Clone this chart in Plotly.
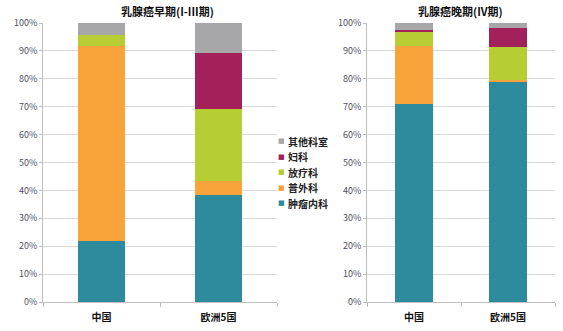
import plotly.graph_objects as go
from plotly.subplots import make_subplots

categories = ["中国", "欧洲5国"]
series_names = ["肿瘤内科", "普外科", "放疗科", "妇科", "其他科室"]
colors = ["#2D8B9D", "#F9A43A", "#B6CD34", "#A3215B", "#A7A7AA"]

early_values = {
    "肿瘤内科": [21.7, 38.4],
    "普外科": [70.1, 4.8],
    "放疗科": [3.9, 25.9],
    "妇科": [0.0, 20.1],
    "其他科室": [4.3, 10.8],
}
late_values = {
    "肿瘤内科": [70.8, 78.7],
    "普外科": [21.0, 0.8],
    "放疗科": [5.1, 11.9],
    "妇科": [0.6, 6.9],
    "其他科室": [2.5, 1.7],
}
ytick_vals = [0, 10, 20, 30, 40, 50, 60, 70, 80, 90, 100]
ytick_text = [f"{v}%" for v in ytick_vals]
titles = ["乳腺癌早期(I-III期)", "乳腺癌晚期(IV期)"]

FONT = "Noto Sans CJK SC"

fig = make_subplots(rows=1, cols=2)
for i, name in enumerate(series_names):
    fig.add_trace(go.Bar(x=categories, y=early_values[name], name=name,
                         marker=dict(color=colors[i], line=dict(width=0)),
                         showlegend=False), row=1, col=1)
    fig.add_trace(go.Bar(x=categories, y=late_values[name], name=name,
                         marker=dict(color=colors[i], line=dict(width=0)),
                         showlegend=False), row=1, col=2)

W, H = 563, 331
ydom = [1 - 302 / H, 1 - 23 / H]
fig.update_layout(
    width=W, height=H,
    margin=dict(l=0, r=0, t=0, b=0, autoexpand=False),
    barmode="stack", bargap=0.6,
    plot_bgcolor="white", paper_bgcolor="white",
    font=dict(family=FONT, size=10, color="#333333"),
    showlegend=False,
    xaxis=dict(domain=[43 / W, 277 / W]),
    xaxis2=dict(domain=[367 / W, 555 / W]),
    yaxis=dict(domain=ydom),
    yaxis2=dict(domain=ydom),
)
for ax in ["xaxis", "xaxis2"]:
    fig.layout[ax].update(showline=True, linecolor="#BFBFBF", linewidth=1,
                          ticks="outside", ticklen=4, tickcolor="#BFBFBF",
                          tickson="boundaries", automargin=False,
                          ticklabelstandoff=6,
                          tickfont=dict(size=10, color="#111111", family=FONT),
                          tickprefix="<b>", ticksuffix="</b>")
for ax in ["yaxis", "yaxis2"]:
    fig.layout[ax].update(range=[0, 100], tickvals=ytick_vals, ticktext=ytick_text,
                          showgrid=True, gridcolor="#D9D9D9", gridwidth=1,
                          showline=True, linecolor="#BFBFBF", linewidth=1,
                          ticks="outside", ticklen=3, tickcolor="#BFBFBF",
                          zeroline=False, automargin=False,
                          tickfont=dict(size=9, color="#505060", family=FONT))

fig.add_annotation(text="<b>" + titles[0] + "</b>", x=167 / W, y=1 - 11 / H,
                   xref="paper", yref="paper", showarrow=False,
                   xanchor="center", yanchor="middle",
                   font=dict(size=11, color="#111111", family=FONT))
fig.add_annotation(text="<b>" + titles[1] + "</b>", x=460 / W, y=1 - 11 / H,
                   xref="paper", yref="paper", showarrow=False,
                   xanchor="center", yanchor="middle",
                   font=dict(size=11, color="#111111", family=FONT))

# custom legend (reversed stacking order, like the reference)
leg_top, leg_step = 141, 15.6
for k, i in enumerate(reversed(range(len(series_names)))):
    yk = 1 - (leg_top + k * leg_step) / H
    fig.add_annotation(text="■", x=281 / W, y=yk, xref="paper", yref="paper",
                       showarrow=False, xanchor="center", yanchor="middle",
                       font=dict(size=7, color=colors[i], family="DejaVu Sans"))
    fig.add_annotation(text="<b>" + series_names[i] + "</b>", x=286 / W, y=yk,
                       xref="paper", yref="paper", showarrow=False,
                       xanchor="left", yanchor="middle",
                       font=dict(size=10, color="#222222", family=FONT))

fig.write_html("out.html")
